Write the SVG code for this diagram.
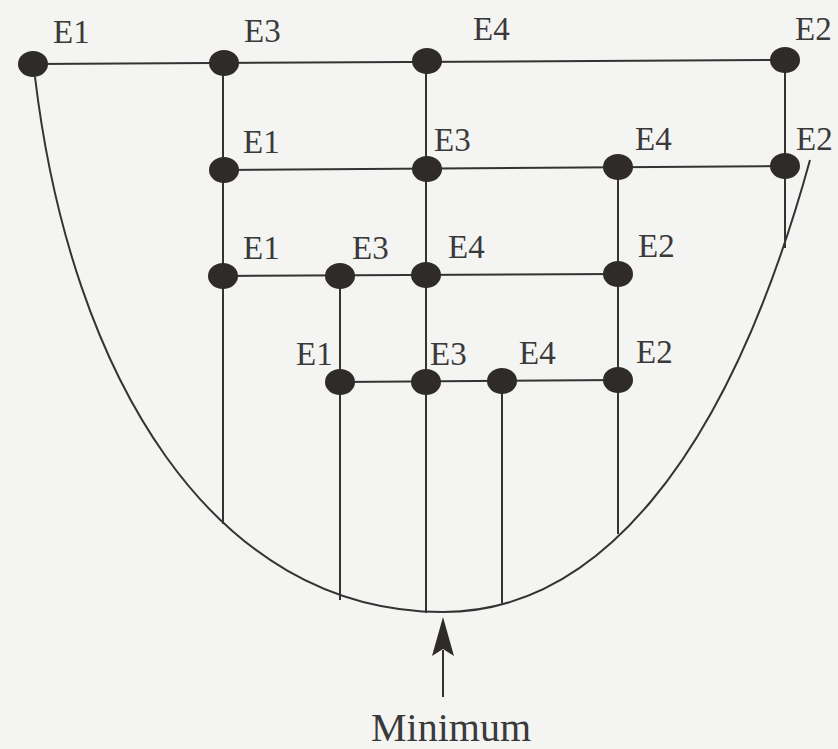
<svg xmlns="http://www.w3.org/2000/svg" width="838" height="749" viewBox="0 0 838 749">
<style>
.bg{fill:#f4f4f2}
.ln{stroke:#333;stroke-width:2;fill:none}
.nd{fill:#2f2b2b}
.lb{font-size:33px;fill:#3a3a3a}
.big{font-size:40px}
</style>
<rect class="bg" x="0" y="0" width="838" height="749"/>
<g id="connectors">
<path class="ln" d="M35 77 C71 377 213 612 443 612 C593 612 725 468 810 160"/>
<line class="ln" x1="35" y1="64" x2="785" y2="60"/>
<line class="ln" x1="223" y1="170" x2="785" y2="166"/>
<line class="ln" x1="223" y1="276" x2="618" y2="274"/>
<line class="ln" x1="340" y1="382" x2="618" y2="380"/>
<line class="ln" x1="223" y1="63" x2="223" y2="524"/>
<line class="ln" x1="426" y1="61" x2="426" y2="613"/>
<line class="ln" x1="785" y1="60" x2="785" y2="248"/>
<line class="ln" x1="618" y1="167" x2="618" y2="534"/>
<line class="ln" x1="340" y1="276" x2="340" y2="600"/>
<line class="ln" x1="502" y1="381" x2="502" y2="603"/>
<line class="ln" x1="443" y1="697" x2="443" y2="650"/>
<path d="M443 617 L454 656 L443 649 L432 656 Z" fill="#2f2b2b"/>
</g>
<g font-family="'Liberation Serif','DejaVu Serif','Noto Serif','Times New Roman',Times,serif">
<g id="r1e1"><ellipse class="nd" cx="33" cy="64" rx="15" ry="13"/><text class="lb" x="53" y="43">E1</text></g>
<g id="r1e3"><ellipse class="nd" cx="224" cy="63" rx="15" ry="13"/><text class="lb" x="244" y="42">E3</text></g>
<g id="r1e4"><ellipse class="nd" cx="427" cy="61" rx="15" ry="13"/><text class="lb" x="473" y="40">E4</text></g>
<g id="r1e2"><ellipse class="nd" cx="785" cy="60" rx="15" ry="13"/><text class="lb" x="795" y="40">E2</text></g>
<g id="r2e1"><ellipse class="nd" cx="224" cy="170" rx="15" ry="13"/><text class="lb" x="243" y="153">E1</text></g>
<g id="r2e3"><ellipse class="nd" cx="427" cy="169" rx="15" ry="13"/><text class="lb" x="434" y="151">E3</text></g>
<g id="r2e4"><ellipse class="nd" cx="618" cy="167" rx="15" ry="13"/><text class="lb" x="635" y="150">E4</text></g>
<g id="r2e2"><ellipse class="nd" cx="785" cy="166" rx="15" ry="13"/><text class="lb" x="796" y="150">E2</text></g>
<g id="r3e1"><ellipse class="nd" cx="223" cy="276" rx="15" ry="13"/><text class="lb" x="243" y="259">E1</text></g>
<g id="r3e3"><ellipse class="nd" cx="340" cy="276" rx="15" ry="13"/><text class="lb" x="352" y="259">E3</text></g>
<g id="r3e4"><ellipse class="nd" cx="426" cy="275" rx="15" ry="13"/><text class="lb" x="448" y="258">E4</text></g>
<g id="r3e2"><ellipse class="nd" cx="618" cy="274" rx="15" ry="13"/><text class="lb" x="638" y="257">E2</text></g>
<g id="r4e1"><ellipse class="nd" cx="340" cy="382" rx="15" ry="13"/><text class="lb" x="296" y="365">E1</text></g>
<g id="r4e3"><ellipse class="nd" cx="426" cy="382" rx="15" ry="13"/><text class="lb" x="430" y="365">E3</text></g>
<g id="r4e4"><ellipse class="nd" cx="502" cy="381" rx="15" ry="13"/><text class="lb" x="519" y="364">E4</text></g>
<g id="r4e2"><ellipse class="nd" cx="618" cy="380" rx="15" ry="13"/><text class="lb" x="636" y="363">E2</text></g>
<g id="minimum"><text class="lb big" x="451" y="741" text-anchor="middle">Minimum</text></g>
</g>
</svg>
